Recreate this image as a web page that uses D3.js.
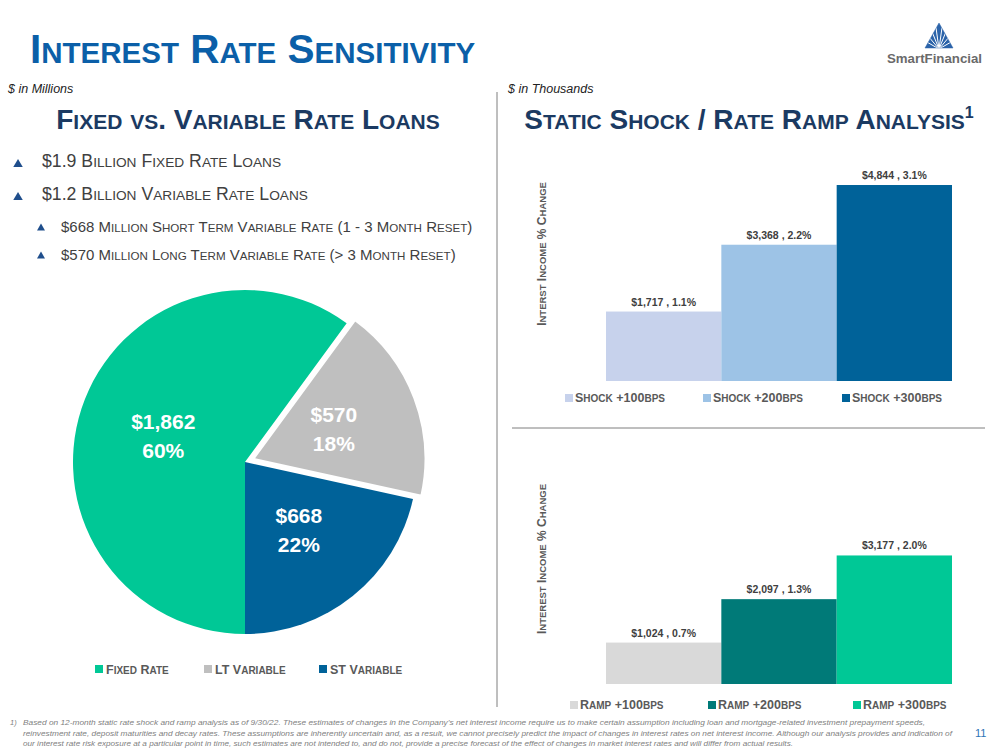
<!DOCTYPE html>
<html><head><meta charset="utf-8">
<script src="https://cdn.jsdelivr.net/npm/d3@7"></script>
<style>
body{margin:0;background:#fff;}
svg{display:block;font-family:"Liberation Sans",Arial,sans-serif;}
text{white-space:pre;}
</style></head>
<body>
<svg id="c" width="999" height="750"></svg>
<script>
// ---- data ----
const pieCategories = ["Fixed Rate", "LT Variable", "ST Variable"];
const pieValues = [1862, 570, 668];
const piePercents = ["60%", "18%", "22%"];

const shockCategories = ["Shock +100bps", "Shock +200bps", "Shock +300bps"];
const shockValues = [1717, 3368, 4844];
const shockPercents = ["1.1%", "2.2%", "3.1%"];

const rampCategories = ["Ramp +100bps", "Ramp +200bps", "Ramp +300bps"];
const rampValues = [1024, 2097, 3177];
const rampPercents = ["0.7%", "1.3%", "2.0%"];

const bullets = [
  {text: "$1.9 Billion Fixed Rate Loans", level: 1},
  {text: "$1.2 Billion Variable Rate Loans", level: 1},
  {text: "$668 Million Short Term Variable Rate (1 - 3 Month Reset)", level: 2},
  {text: "$570 Million Long Term Variable Rate (> 3 Month Reset)", level: 2}
];

const footnoteLines = [
  "Based on 12-month static rate shock and ramp analysis as of 9/30/22. These estimates of changes in the Company\u2019s net interest income require us to make certain assumption including loan and mortgage-related investment prepayment speeds,",
  "reinvestment rate, deposit maturities and decay rates. These assumptions are inherently uncertain and, as a result, we cannot precisely predict the impact of changes in interest rates on net interest income. Although our analysis provides and indication of",
  "our interest rate risk exposure at a particular point in time, such estimates are not intended to, and do not, provide a precise forecast of the effect of changes in market interest rates and will differ from actual results."
];

// ---- helpers ----
const svg = d3.select("#c");
function smallCaps(sel, str, big, small) {
  const parts = [];
  for (const ch of str) {
    const isSmall = ch !== ch.toUpperCase();
    const size = isSmall ? small : big;
    const last = parts[parts.length - 1];
    if (last && last.size === size) last.t += ch.toUpperCase();
    else parts.push({t: ch.toUpperCase(), size});
  }
  sel.selectAll(null).data(parts).join("tspan")
    .attr("font-size", d => d.size).text(d => d.t);
  return sel;
}

const BLUE = "#0b5fa8", NAVY = "#1b3a62", GRAY = "#404040";

// ---- header ----
smallCaps(svg.append("text").attr("x", 30).attr("y", 63)
  .attr("font-weight", "bold").attr("fill", BLUE), "Interest Rate Sensitivity", 40.5, 29.5);

// logo
const logo = svg.append("g");
logo.append("path").attr("d", "M939,23 L953,48 L925,48 Z").attr("fill", "#2b63a9");
[-60, -40, -22, -8, 8, 22, 40, 60].forEach(a => {
  const r = a * Math.PI / 180;
  logo.append("line").attr("x1", 939).attr("y1", 49)
    .attr("x2", 939 + Math.sin(r) * 22).attr("y2", 49 - Math.cos(r) * 22)
    .attr("stroke", "#fff").attr("stroke-width", 1);
});
logo.append("path").attr("d", "M939,23 L953,48 L925,48 Z").attr("fill", "none").attr("stroke", "#2b63a9").attr("stroke-width", 0.5);
logo.append("text").attr("x", 887).attr("y", 63).attr("font-size", 12).attr("font-weight", "bold")
  .attr("fill", "#6a6a6a").attr("textLength", 95).attr("lengthAdjust", "spacingAndGlyphs").text("SmartFinancial");

svg.append("text").attr("x", 8).attr("y", 93).attr("font-size", 12.5).attr("font-style", "italic")
  .attr("fill", "#222").text("$ in Millions");
svg.append("text").attr("x", 508).attr("y", 93).attr("font-size", 12.5).attr("font-style", "italic")
  .attr("fill", "#222").text("$ in Thousands");

// dividers
svg.append("line").attr("x1", 497).attr("x2", 497).attr("y1", 92).attr("y2", 707)
  .attr("stroke", "#7f7f7f").attr("stroke-width", 1);
svg.append("line").attr("x1", 512).attr("x2", 985).attr("y1", 428).attr("y2", 428)
  .attr("stroke", "#7f7f7f").attr("stroke-width", 1);

// subheadings
smallCaps(svg.append("text").attr("x", 248).attr("y", 129).attr("text-anchor", "middle")
  .attr("font-weight", "bold").attr("fill", NAVY), "Fixed vs. Variable Rate Loans", 28, 21);
const rh = smallCaps(svg.append("text").attr("x", 749).attr("y", 129).attr("text-anchor", "middle")
  .attr("font-weight", "bold").attr("fill", NAVY), "Static Shock / Rate Ramp Analysis", 28, 21);
rh.append("tspan").attr("font-size", 16).attr("dy", -11).text("1");

// bullets
const bulletY = [167, 200, 232, 260];
bullets.forEach((b, i) => {
  const tx = b.level === 1 ? 18 : 41;
  const sz = b.level === 1 ? 9.5 : 8;
  const h = sz * 0.85;
  const cy = bulletY[i] - (b.level === 1 ? 4 : 5);
  svg.append("path")
    .attr("d", `M${tx},${cy - h / 2} L${tx + sz / 2},${cy + h / 2} L${tx - sz / 2},${cy + h / 2} Z`)
    .attr("fill", "#1f4e8c");
  smallCaps(svg.append("text").attr("x", b.level === 1 ? 42 : 61).attr("y", bulletY[i]).attr("fill", GRAY),
    b.text, b.level === 1 ? 17.7 : 15, b.level === 1 ? 13.7 : 11.6);
});

// ---- pie ----
const pieColors = ["#00c896", "#bfbfbf", "#006299"];
const cx = 245, cy = 462, R = 172;
const pieData = pieCategories.map((c, i) => ({cat: c, value: pieValues[i], pct: piePercents[i], color: pieColors[i], explode: i === 1 ? 9 : 0}));
const arcs = d3.pie().sort(null).value(d => d.value).startAngle(Math.PI).endAngle(3 * Math.PI)(pieData);
const arc = d3.arc().innerRadius(0).outerRadius(R);
const labelArc = d3.arc().innerRadius(86).outerRadius(86);
const pg = svg.append("g").attr("transform", `translate(${cx},${cy})`);
const slices = pg.selectAll("g.slice").data(arcs).join("g").attr("class", "slice")
  .attr("transform", d => {
    const m = (d.startAngle + d.endAngle) / 2, e = d.data.explode;
    return `translate(${Math.sin(m) * e},${-Math.cos(m) * e})`;
  });
slices.append("path").attr("d", arc).attr("fill", d => d.data.color)
  .attr("stroke", d => d.data.explode ? "#fff" : "none").attr("stroke-width", 2);
slices.each(function(d) {
  const [lx, ly] = labelArc.centroid(d);
  const t = d3.select(this).append("text").attr("text-anchor", "middle").attr("fill", "#fff")
    .attr("font-weight", "bold").attr("font-size", 21);
  t.append("tspan").attr("x", lx).attr("y", ly - 6).text("$" + d3.format(",")(d.data.value));
  t.append("tspan").attr("x", lx).attr("y", ly + 23).text(d.data.pct);
});

// pie legend
const pieLegX = [95, 204, 319];
pieData.forEach((d, i) => {
  svg.append("rect").attr("x", pieLegX[i]).attr("y", 665).attr("width", 8).attr("height", 8).attr("fill", d.color);
  smallCaps(svg.append("text").attr("x", pieLegX[i] + 11).attr("y", 674).attr("font-weight", "bold")
    .attr("fill", "#595959"), d.cat, 12.5, 10);
});

// ---- bar charts ----
function barChart(cfg) {
  const x = d3.scaleBand().domain(cfg.categories).range([606, 952]).padding(0);
  const y = d3.scaleLinear().domain([0, 5000]).range([cfg.base, cfg.base - 202.3]);
  const g = svg.append("g");
  g.selectAll("rect").data(cfg.categories).join("rect")
    .attr("x", d => x(d)).attr("width", x.bandwidth())
    .attr("y", (d, i) => y(cfg.values[i])).attr("height", (d, i) => y(0) - y(cfg.values[i]))
    .attr("fill", (d, i) => cfg.colors[i]);
  g.selectAll("text.lbl").data(cfg.categories).join("text").attr("class", "lbl")
    .attr("x", d => x(d) + x.bandwidth() / 2).attr("y", (d, i) => y(cfg.values[i]) - 6)
    .attr("text-anchor", "middle").attr("font-size", 10.5).attr("font-weight", "bold").attr("fill", GRAY)
    .text((d, i) => "$" + d3.format(",")(cfg.values[i]) + " , " + cfg.pcts[i]);
  smallCaps(g.append("text").attr("transform", `translate(546,${cfg.titleY}) rotate(-90)`)
    .attr("text-anchor", "middle").attr("font-weight", "bold").attr("fill", "#595959"),
    cfg.axisTitle, 12, 9.5);
  cfg.categories.forEach((c, i) => {
    g.append("rect").attr("x", cfg.legX[i]).attr("y", cfg.legY - 8).attr("width", 8).attr("height", 8).attr("fill", cfg.colors[i]);
    smallCaps(g.append("text").attr("x", cfg.legX[i] + 10).attr("y", cfg.legY).attr("font-weight", "bold")
      .attr("fill", "#595959"), c, 12.5, 10);
  });
}
barChart({categories: shockCategories, values: shockValues, pcts: shockPercents,
  colors: ["#c7d2ec", "#9dc3e6", "#006299"], base: 381, titleY: 254,
  axisTitle: "Interst Income % Change", legX: [565, 703, 842], legY: 402});
barChart({categories: rampCategories, values: rampValues, pcts: rampPercents,
  colors: ["#d9d9d9", "#007a78", "#00c896"], base: 684, titleY: 559,
  axisTitle: "Interest Income % Change", legX: [570, 708, 853], legY: 709});

// ---- footnote ----
svg.append("text").attr("x", 10).attr("y", 725).attr("font-size", 7.5).attr("font-style", "italic")
  .attr("fill", "#808080").text("1)");
const fnLen = [902, 929, 770];
footnoteLines.forEach((l, i) => {
  svg.append("text").attr("x", 23).attr("y", 725 + i * 10.5).attr("font-size", 7.5).attr("font-style", "italic")
    .attr("fill", "#808080").attr("textLength", fnLen[i]).attr("lengthAdjust", "spacingAndGlyphs").text(l);
});
svg.append("text").attr("x", 975).attr("y", 737).attr("font-size", 11).attr("fill", "#2e75b6").text("11");
</script>
</body></html>
